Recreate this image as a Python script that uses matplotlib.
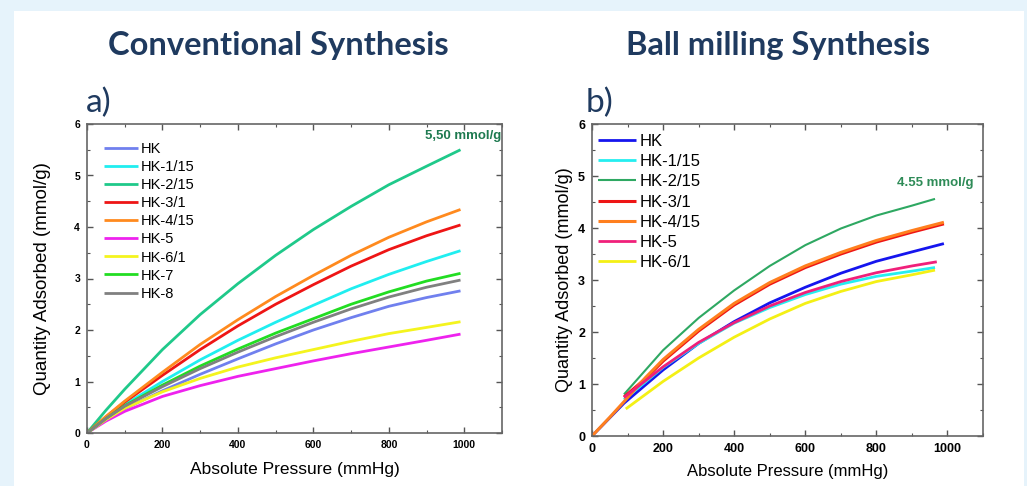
import matplotlib
matplotlib.use("Agg")
import matplotlib.pyplot as plt
from matplotlib.patches import Rectangle
from matplotlib.ticker import MultipleLocator

# ---------------- data ----------------
# a) Conventional synthesis
conv_labels = ["HK", "HK-1/15", "HK-2/15", "HK-3/1", "HK-4/15", "HK-5", "HK-6/1", "HK-7", "HK-8"]
conv_colors = ["#7080EE", "#20EEF0", "#1FC98A", "#EE1515", "#FF8A1E", "#EE22EE", "#F4F41E", "#22DD22", "#808080"]
conv_p = [0, 50, 100, 200, 300, 400, 500, 600, 700, 800, 900, 990]
conv_hk    = [0, 0.25, 0.47, 0.82, 1.14, 1.44, 1.73, 2.00, 2.24, 2.46, 2.63, 2.76]
conv_hk1   = [0, 0.29, 0.55, 1.00, 1.42, 1.80, 2.15, 2.48, 2.80, 3.08, 3.33, 3.54]
conv_hk2   = [0, 0.44, 0.85, 1.62, 2.30, 2.90, 3.45, 3.95, 4.40, 4.82, 5.18, 5.50]
conv_hk3   = [0, 0.31, 0.60, 1.12, 1.62, 2.08, 2.50, 2.88, 3.24, 3.56, 3.83, 4.04]
conv_hk4   = [0, 0.32, 0.62, 1.18, 1.72, 2.20, 2.65, 3.06, 3.45, 3.80, 4.10, 4.34]
conv_hk5   = [0, 0.23, 0.42, 0.71, 0.92, 1.10, 1.25, 1.40, 1.54, 1.67, 1.80, 1.92]
conv_hk6   = [0, 0.26, 0.48, 0.80, 1.06, 1.28, 1.46, 1.62, 1.78, 1.93, 2.05, 2.16]
conv_hk7   = [0, 0.28, 0.53, 0.93, 1.30, 1.63, 1.94, 2.22, 2.50, 2.74, 2.95, 3.10]
conv_hk8   = [0, 0.28, 0.52, 0.90, 1.25, 1.57, 1.87, 2.15, 2.41, 2.64, 2.83, 2.97]
conv_q = [conv_hk, conv_hk1, conv_hk2, conv_hk3, conv_hk4, conv_hk5, conv_hk6, conv_hk7, conv_hk8]

# b) Ball milling synthesis
ball_labels = ["HK", "HK-1/15", "HK-2/15", "HK-3/1", "HK-4/15", "HK-5", "HK-6/1"]
ball_colors = ["#1515EE", "#25EEF0", "#2EA862", "#EE1515", "#FF7F1E", "#F0207A", "#F4F015"]
ball_p_hk  = [0, 50, 90, 200, 300, 400, 500, 600, 700, 800, 900, 990]
ball_hk    = [0, 0.35, 0.63, 1.27, 1.78, 2.20, 2.56, 2.86, 3.13, 3.36, 3.54, 3.70]
ball_p_hk1 = [90, 200, 300, 400, 500, 600, 700, 800, 900, 965]
ball_hk1   = [0.70, 1.32, 1.78, 2.17, 2.47, 2.72, 2.92, 3.07, 3.17, 3.24]
ball_p_hk2 = [90, 200, 300, 400, 500, 600, 700, 800, 900, 965]
ball_hk2   = [0.80, 1.65, 2.27, 2.80, 3.27, 3.67, 3.99, 4.24, 4.43, 4.56]
ball_p_hk3 = [90, 150, 200, 300, 400, 500, 600, 700, 800, 900, 990]
ball_hk3   = [0.75, 1.10, 1.44, 2.02, 2.52, 2.92, 3.24, 3.50, 3.73, 3.92, 4.08]
ball_p_hk4 = [0, 50, 90, 150, 200, 300, 400, 500, 600, 700, 800, 900, 990]
ball_hk4   = [0, 0.36, 0.66, 1.12, 1.47, 2.05, 2.55, 2.95, 3.27, 3.53, 3.76, 3.95, 4.11]
ball_p_hk5 = [90, 200, 300, 400, 500, 600, 700, 800, 900, 970]
ball_hk5   = [0.74, 1.33, 1.80, 2.18, 2.50, 2.76, 2.97, 3.14, 3.27, 3.35]
ball_p_hk6 = [95, 200, 300, 400, 500, 600, 700, 800, 900, 965]
ball_hk6   = [0.52, 1.05, 1.50, 1.90, 2.25, 2.55, 2.78, 2.97, 3.10, 3.19]
ball_p = [ball_p_hk, ball_p_hk1, ball_p_hk2, ball_p_hk3, ball_p_hk4, ball_p_hk5, ball_p_hk6]
ball_q = [ball_hk, ball_hk1, ball_hk2, ball_hk3, ball_hk4, ball_hk5, ball_hk6]

x_ticks = [0, 200, 400, 600, 800, 1000]
y_ticks = [0, 1, 2, 3, 4, 5, 6]

# ---------------- figure ----------------
W, H = 1027, 486
fig = plt.figure(figsize=(W / 100, H / 100), dpi=100, facecolor="#E6F3FB")
fig.patches.append(Rectangle((14 / W, 0), 1010 / W, 1 - 11 / H, transform=fig.transFigure,
                             facecolor="white", edgecolor="none", zorder=-10))

def fx(px):
    return px / W

def fy(py):
    return 1 - py / H

navy = "#1F3A5F"
title_font = ["Lato", "DejaVu Sans"]
arial = ["Liberation Sans", "DejaVu Sans"]

fig.text(fx(278), fy(46), "Conventional Synthesis", ha="center", va="center",
         fontsize=23.5, fontweight="bold", color=navy, family=title_font)
fig.text(fx(778), fy(46), "Ball milling Synthesis", ha="center", va="center",
         fontsize=23.5, fontweight="bold", color=navy, family=title_font)
fig.text(fx(86), fy(103), "a)", ha="left", va="center", fontsize=24, color=navy, family=title_font)
fig.text(fx(586), fy(103), "b)", ha="left", va="center", fontsize=24, color=navy, family=title_font)

ax1 = fig.add_axes([fx(87), fy(433), (502 - 87) / W, (433 - 124) / H])
ax2 = fig.add_axes([fx(592), fy(436), (983 - 592) / W, (436 - 124) / H])

def style(ax, tick_fs):
    ax.set_xlim(0, 1100)
    ax.set_ylim(0, 6)
    ax.set_xticks(x_ticks)
    ax.set_yticks(y_ticks)
    ax.xaxis.set_minor_locator(MultipleLocator(100))
    ax.yaxis.set_minor_locator(MultipleLocator(0.5))
    ax.tick_params(which="both", direction="in", top=True, right=True, color="#555555")
    ax.tick_params(which="major", length=4, width=1.0, pad=5)
    ax.tick_params(which="minor", length=2.5, width=0.8)
    for lab in ax.get_xticklabels() + ax.get_yticklabels():
        lab.set_fontsize(tick_fs)
        lab.set_fontweight("bold")
        lab.set_family(arial)
    for s in ax.spines.values():
        s.set_color("#666666")
        s.set_linewidth(1.2)
    ax.set_facecolor("white")

style(ax1, 7.5)
style(ax2, 9)

for lab, col, q in zip(conv_labels, conv_colors, conv_q):
    ax1.plot(conv_p, q, color=col, lw=2.0, label=lab, solid_capstyle="butt")

ball_lw = [2.0, 2.0, 1.5, 2.2, 2.2, 2.0, 2.0]
for lab, col, p, q, lw in zip(ball_labels, ball_colors, ball_p, ball_q, ball_lw):
    ax2.plot(p, q, color=col, lw=lw, label=lab, solid_capstyle="butt")

ax1.set_xlabel("Absolute Pressure (mmHg)", fontsize=12.5, family=arial)
ax1.set_ylabel("Quantity Adsorbed (mmol/g)", fontsize=13.5, family=arial)
ax1.xaxis.set_label_coords(0.5, (433 - 462) / 309)
ax1.yaxis.set_label_coords((51 - 87) / 415, 0.5)

ax2.set_xlabel("Absolute Pressure (mmHg)", fontsize=12, family=arial)
ax2.set_ylabel("Quantity Adsorbed (mmol/g)", fontsize=13, family=arial)
ax2.xaxis.set_label_coords(0.5, (436 - 464) / 312)
ax2.yaxis.set_label_coords((573 - 592) / 391, 0.5)

ax1.text(1097, 5.76, "5,50 mmol/g", ha="right", va="center", fontsize=9.5, fontweight="bold",
         color="#1E7A50", family=arial)
ax2.text(858, 4.87, "4.55 mmol/g", ha="left", va="center", fontsize=9.5, fontweight="bold",
         color="#2E8B57", family=arial)

ax1.legend(loc="upper left", bbox_to_anchor=((104 - 87) / 415, (433 - 142) / 309), frameon=False,
           prop={"family": arial, "size": 10.5}, handlelength=2.3, handletextpad=0.25,
           labelspacing=0.28, borderaxespad=0, borderpad=0)
ax2.legend(loc="upper left", bbox_to_anchor=((598 - 592) / 391, (436 - 134) / 312), frameon=False,
           prop={"family": arial, "size": 12}, handlelength=2.3, handletextpad=0.2,
           labelspacing=0.31, borderaxespad=0, borderpad=0)

fig.savefig("out.png", dpi=100, facecolor=fig.get_facecolor())
